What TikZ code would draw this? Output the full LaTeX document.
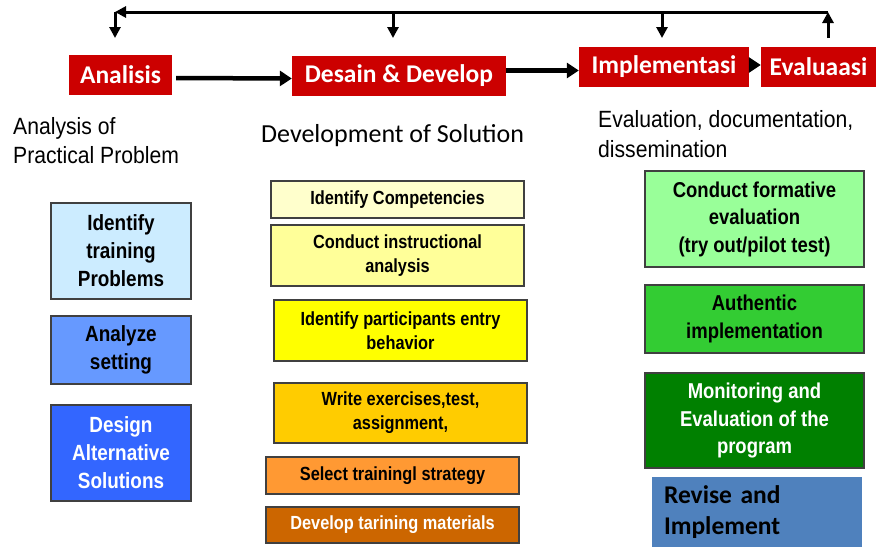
\documentclass[tikz,border=0pt]{standalone}
\usepackage{fontspec}
\setmainfont{Liberation Sans}
\newfontfamily\capfont[FakeStretch=0.9]{Liberation Sans}
\newfontfamily\boxfont[FakeStretch=0.86]{Liberation Sans}
\newfontfamily\calfont{Carlito}
\usetikzlibrary{positioning}
\usetikzlibrary{arrows.meta}
\usetikzlibrary{calc}

\definecolor{phasered}{HTML}{CC0000}
\definecolor{anaA}{HTML}{CCECFF}
\definecolor{anaB}{HTML}{6699FF}
\definecolor{anaC}{HTML}{3366FF}
\definecolor{devA}{HTML}{FFFFCC}
\definecolor{devB}{HTML}{FFFF99}
\definecolor{devC}{HTML}{FFFF00}
\definecolor{devD}{HTML}{FFCC00}
\definecolor{devE}{HTML}{FF9933}
\definecolor{devF}{HTML}{CC6600}
\definecolor{impA}{HTML}{99FF99}
\definecolor{impB}{HTML}{33CC33}
\definecolor{impC}{HTML}{008000}
\definecolor{revise}{HTML}{4F81BD}

\begin{document}
\begin{tikzpicture}[x=1pt, y=-1pt,
  phase/.style={fill=phasered, text=white, inner sep=0pt, minimum height=40pt,
    font={\calfont\bfseries\fontsize{25.5}{28}\selectfont}},
  stepbox/.style={draw=black!75, line width=1.2pt, align=center, inner sep=0pt},
  bigbox/.style={stepbox, minimum width=140pt, font={\boxfont\bfseries\fontsize{22}{28}\selectfont}},
  devbox/.style={stepbox, minimum width=253pt, font={\boxfont\bfseries\fontsize{19}{24}\selectfont}},
  evalbox/.style={stepbox, minimum width=219pt, font={\boxfont\bfseries\fontsize{21.5}{27.5}\selectfont}},
  caption/.style={inner sep=0pt, align=left, anchor=base west},
  flow/.style={line width=4.5pt, -{Triangle[length=12pt,width=15pt]}},
  back/.style={line width=3pt, -{Triangle[length=11pt,width=11pt]}}]
  \useasboundingbox (0,0) rectangle (876,547);

  % the four phases
  \node[phase, minimum width=103pt] (ana) at (120.5,75) {Analisis};
  \node[phase, minimum width=214pt] (des) at (399,75.5) {Desain \& Develop};
  \node[phase, minimum width=170pt] (imp) at (664,67) {Implementasi};
  \node[phase, minimum width=115pt] (eva) at (818.5,67) {Evaluaasi};

  \draw[flow] ([yshift=-3pt]ana.east) ++(4,0) -- ([yshift=-3pt]des.west);
  \draw[flow] ([yshift=5pt]des.east) -- ([yshift=-3.5pt]imp.west);
  \draw[flow] ([yshift=2pt]imp.east) -- ([yshift=2pt]eva.west);

  % feedback loop above the phases
  \coordinate (fbR) at (828,38);
  \coordinate (fbRtop) at (828,12);
  \coordinate (fbL) at (115,12);
  \draw[back] (fbR) -- (fbRtop);
  \draw[back] (fbRtop) -- (fbL);
  \foreach \x/\n in {115/ana, 393/des, 662/imp} {
    \coordinate (top\n) at (\x,12);
    \coordinate (end\n) at (\x,38);
    \draw[back] (top\n) -- (end\n);
  }

  % column captions (base is the last line)
  \node[caption, font={\capfont\fontsize{23.5}{29}\selectfont}] (capA) at (13,163) {Analysis of\\Practical Problem};
  \node[caption, font={\calfont\fontsize{26}{30}\selectfont}] (capD) at (261,142) {Development of Solution};
  \node[caption, font={\capfont\fontsize{23.5}{30}\selectfont}] (capE) at (598,157) {Evaluation, documentation,\\dissemination};

  % analysis steps
  \node[bigbox, fill=anaA, minimum height=96pt] (a1) at (121,251) {Identify\\training\\Problems};
  \node[bigbox, fill=anaB, minimum height=68pt] (a2) at (121,350) {Analyze\\setting};
  \node[bigbox, fill=anaC, minimum height=96pt, text=white] (a3) at (121,453) {Design\\Alternative\\Solutions};

  % development steps
  \node[devbox, fill=devA, minimum height=37pt] (d1) at (397.5,199.5) {Identify Competencies};
  \node[devbox, fill=devB, minimum height=61pt] (d2) at (397.5,255.5) {Conduct instructional\\analysis};
  \node[devbox, fill=devC, minimum height=61pt] (d3) at (400.5,330.5) {Identify participants entry\\behavior};
  \node[devbox, fill=devD, minimum height=60pt] (d4) at (400.5,413) {Write exercises,test,\\assignment,};
  \node[devbox, fill=devE, minimum height=37pt] (d5) at (392.5,475.5) {Select trainingl strategy};
  \node[devbox, fill=devF, minimum height=36pt, text=white] (d6) at (392.5,525) {Develop tarining materials};

  % implementation and evaluation steps
  \node[evalbox, fill=impA, minimum height=96pt] (e1) at (754.5,219) {Conduct formative\\evaluation\\(try out/pilot test)};
  \node[evalbox, fill=impB, minimum height=68pt] (e2) at (754.5,319) {Authentic\\implementation};
  \node[evalbox, fill=impC, minimum height=95pt, text=white] (e3) at (754.5,420.5) {Monitoring and\\Evaluation of the\\program};
  \node[fill=revise, minimum height=70pt, text width=186pt, inner xsep=12pt, inner ysep=0pt, align=left,
    font={\calfont\bfseries\fontsize{25.5}{31}\selectfont}] (e4) at (757,512) {Revise and\\Implement};
\end{tikzpicture}
\end{document}
